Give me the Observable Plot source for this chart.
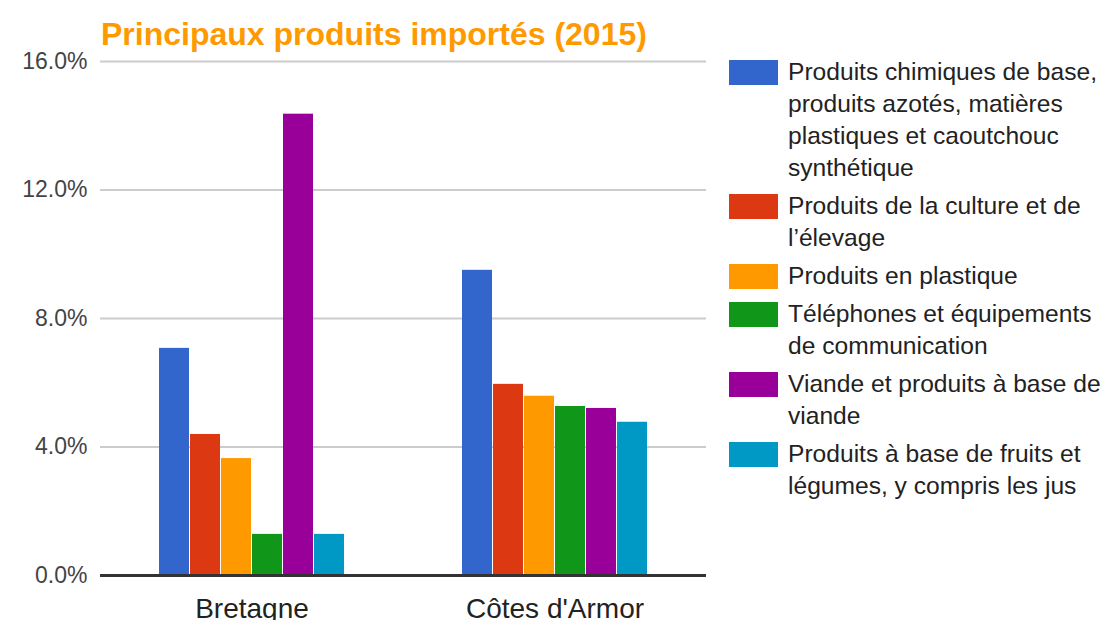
<!DOCTYPE html>
<html>
<head>
<meta charset="utf-8">
<script src="https://cdn.jsdelivr.net/npm/d3@7"></script>
<script src="https://cdn.jsdelivr.net/npm/@observablehq/plot@0.6"></script>
<style>
  html, body { margin: 0; padding: 0; background: #fff; }
  #wrap { position: relative; width: 1106px; height: 620px; overflow: hidden; font-family: "Liberation Sans", Arial, sans-serif; }
  #title { box-sizing: border-box; height: 50px; padding: 18px 0 0 101px; font-size: 32px; line-height: 32px; font-weight: bold; color: #ff9900; white-space: nowrap; }
  #legend { position: absolute; left: 729px; top: 56px; width: 377px; }
  .item { display: flex; align-items: flex-start; margin-bottom: 6px; }
  .sw { width: 49px; height: 25px; margin-top: 4px; flex: none; }
  .lab { margin-left: 10px; width: 320px; font-size: 24.6px; line-height: 32px; color: #222; }
</style>
</head>
<body>
<div id="wrap">
  <div id="title"></div>
  <div id="chart"></div>
  <div id="legend"></div>
</div>
<script>
const titleText = "Principaux produits importés (2015)";
const regions = ["Bretagne", "Côtes d'Armor"];
const products = [
  "Produits chimiques de base, produits azotés, matières plastiques et caoutchouc synthétique",
  "Produits de la culture et de l’élevage",
  "Produits en plastique",
  "Téléphones et équipements de communication",
  "Viande et produits à base de viande",
  "Produits à base de fruits et légumes, y compris les jus"
];
const bretagneValues = [7.07, 4.39, 3.64, 1.28, 14.36, 1.28];
const cotesValues = [9.50, 5.95, 5.58, 5.26, 5.20, 4.77];
const colors = ["#3366cc", "#dc3912", "#ff9900", "#109618", "#990099", "#0099c6"];
const yTicks = [0, 4, 8, 12, 16];

const seriesByRegion = [bretagneValues, cotesValues];
const data = [];
regions.forEach((r, i) => products.forEach((p, j) => data.push({region: r, product: p, value: seriesByRegion[i][j]})));

document.getElementById("title").textContent = titleText;

const chart = Plot.plot({
  width: 1106,
  height: 570,
  marginTop: 11,
  marginBottom: 45,
  marginLeft: 100,
  marginRight: 400,
  style: {fontFamily: "'Liberation Sans', Arial, sans-serif", background: "#fff", overflow: "visible"},
  fx: {domain: regions, padding: 0},
  x: {domain: products, paddingInner: 0.03, paddingOuter: 1.85, axis: null},
  y: {domain: [0, 16]},
  color: {domain: products, range: colors},
  marks: [
    Plot.ruleY(yTicks.filter(d => d > 0), {stroke: "#cccccc", strokeWidth: 2}),
    Plot.barY(data, {fx: "region", x: "product", y: "value", fill: "product"}),
    Plot.ruleY([0], {stroke: "#333333", strokeWidth: 3}),
    Plot.axisY({ticks: yTicks, tickFormat: d => d.toFixed(1) + "%", tickSize: 0, tickPadding: 13, fontSize: 23, color: "#444444", label: null}),
    Plot.axisFx({anchor: "bottom", tickSize: 0, tickPadding: 23, fontSize: 28, color: "#222222", label: null})
  ]
});
document.getElementById("chart").appendChild(chart);

const legend = document.getElementById("legend");
products.forEach((p, i) => {
  const item = document.createElement("div");
  item.className = "item";
  const sw = document.createElement("div");
  sw.className = "sw";
  sw.style.background = colors[i];
  const lab = document.createElement("div");
  lab.className = "lab";
  lab.textContent = p;
  item.appendChild(sw);
  item.appendChild(lab);
  legend.appendChild(item);
});
</script>
</body>
</html>
